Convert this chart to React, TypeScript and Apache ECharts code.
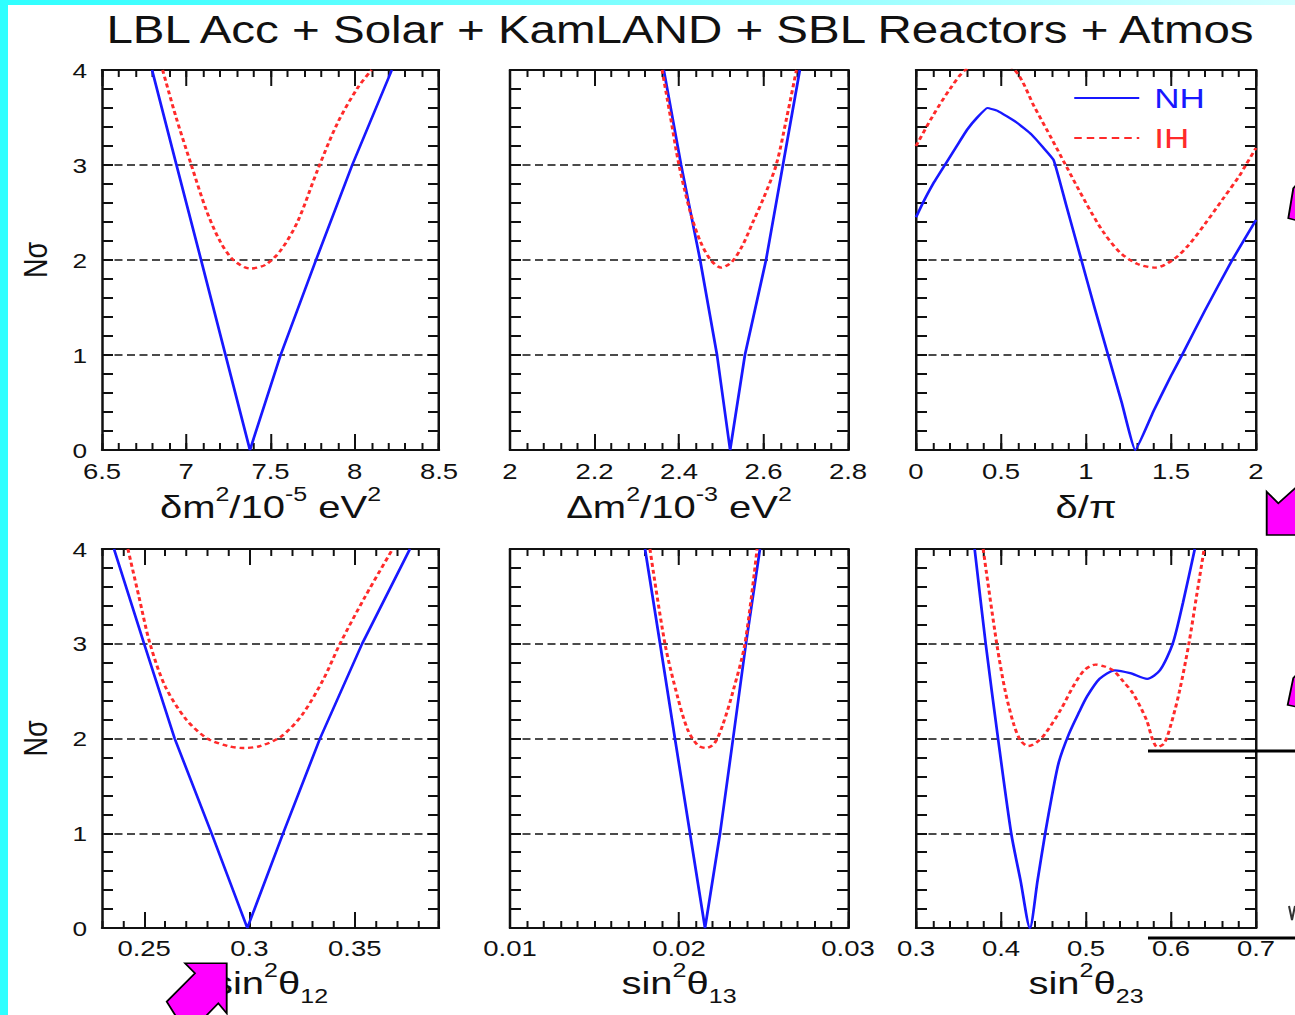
import { useEffect, useRef } from "react";
import * as echarts from "echarts";

// The reference slide image is stretched horizontally; we render at a
// narrower width and stretch the whole chart with CSS.
const STRETCH = 1.25;
const PAGE_W = 1295;
const PAGE_H = 1015;
const CHART_W = PAGE_W / STRETCH;

const FONT = "'Liberation Sans', Arial, Helvetica, sans-serif";
const INK = "#111111";
const BLUE = "#1818ff";
const RED = "#ff2a2a";

const TITLE = "LBL Acc + Solar + KamLAND + SBL Reactors + Atmos";
const SERIES_NAMES = ["NH", "IH"];
const Y_LABEL = "Nσ";

// ---- x-axis ranges, tick labels -------------------------------------------
const X_MIN = [6.5, 2, 0, 0.23, 0.01, 0.3];
const X_MAX = [8.5, 2.8, 2, 0.39, 0.03, 0.7];
const X_MAJORS = [
  [6.5, 7, 7.5, 8, 8.5],
  [2, 2.2, 2.4, 2.6, 2.8],
  [0, 0.5, 1, 1.5, 2],
  [0.25, 0.3, 0.35],
  [0.01, 0.02, 0.03],
  [0.3, 0.4, 0.5, 0.6, 0.7],
];
const X_MINOR_STEP = [0.1, 0.04, 0.1, 0.01, 0.001, 0.02];
const X_NAMES = [
  "{m|δm}{sup|2}{m|/10}{sup|-5}{m| eV}{sup|2}",
  "{m|Δm}{sup|2}{m|/10}{sup|-3}{m| eV}{sup|2}",
  "{m|δ/π}",
  "{m|sin}{sup|2}{m|θ}{sub|12}",
  "{m|sin}{sup|2}{m|θ}{sub|13}",
  "{m|sin}{sup|2}{m|θ}{sub|23}",
];

// ---- data: δm² / 10^-5 eV² -------------------------------------------------
const dm21X_NH = [6.797, 6.942, 7.088, 7.233, 7.378, 7.56, 7.77, 7.985, 8.22];
const dm21Y_NH = [4, 3, 2, 1, 0, 1, 2, 3, 4];
const dm21X_IH = [6.86, 6.94, 7.03, 7.12, 7.2, 7.28, 7.38, 7.47, 7.56, 7.66, 7.78, 7.9, 8.02, 8.1];
const dm21Y_IH = [4, 3.5, 3.0, 2.52, 2.2, 2.0, 1.91, 1.95, 2.1, 2.4, 2.95, 3.45, 3.82, 4.0];

// ---- data: Δm² / 10^-3 eV² -------------------------------------------------
const dm31X_NH = [2.364, 2.405, 2.45, 2.49, 2.521, 2.556, 2.606, 2.646, 2.686];
const dm31Y_NH = [4, 3, 2, 1, 0, 1, 2, 3, 4];
const dm31X_IH = [2.36, 2.38, 2.4, 2.427, 2.45, 2.475, 2.5, 2.525, 2.55, 2.575, 2.6, 2.63, 2.655, 2.678];
const dm31Y_IH = [4, 3.5, 3.0, 2.5, 2.2, 2.0, 1.92, 1.98, 2.15, 2.4, 2.65, 3.0, 3.5, 4.0];

// ---- data: δ/π --------------------------------------------------------------
const cpX_NH = [0, 0.04, 0.1, 0.17, 0.24, 0.3, 0.36, 0.42, 0.48, 0.59, 0.68, 0.75, 0.81, 0.88, 0.965, 1.05, 1.13, 1.21, 1.29, 1.4, 1.5, 1.565, 1.7, 1.86, 2.0];
const cpY_NH = [2.45, 2.6, 2.8, 3.0, 3.2, 3.37, 3.5, 3.6, 3.57, 3.45, 3.32, 3.18, 3.05, 2.6, 2.05, 1.5, 1.0, 0.5, 0, 0.42, 0.78, 1.0, 1.47, 2.0, 2.42];
const cpX_IH = [0, 0.1, 0.2, 0.29, 0.43, 0.58, 0.7, 0.8, 0.88, 1.0, 1.1, 1.2, 1.3, 1.41, 1.51, 1.6, 1.7, 1.8, 1.9, 1.94, 2.0];
const cpY_IH = [3.2, 3.52, 3.8, 4.0, 4.12, 4.0, 3.6, 3.27, 3.0, 2.6, 2.3, 2.08, 1.96, 1.92, 2.0, 2.15, 2.38, 2.63, 2.88, 3.0, 3.18];

// ---- data: sin²θ12 ----------------------------------------------------------
const s12X_NH = [0.2357, 0.25, 0.2645, 0.282, 0.299, 0.316, 0.3335, 0.3535, 0.3762];
const s12Y_NH = [4, 3, 2, 1, 0, 1, 2, 3, 4];
const s12X_IH = [0.2423, 0.2475, 0.2528, 0.26, 0.27, 0.28, 0.29, 0.297, 0.305, 0.315, 0.325, 0.335, 0.343, 0.355, 0.368];
const s12Y_IH = [4, 3.5, 3.0, 2.55, 2.2, 2.0, 1.92, 1.9, 1.92, 2.02, 2.25, 2.62, 3.0, 3.5, 4.0];

// ---- data: sin²θ13 ----------------------------------------------------------
const s13X_NH = [0.01799, 0.01888, 0.01976, 0.02065, 0.02154, 0.02243, 0.0232, 0.02396, 0.02479];
const s13Y_NH = [4, 3, 2, 1, 0, 1, 2, 3, 4];
const s13X_IH = [0.01828, 0.01917, 0.0199, 0.0205, 0.0211, 0.0216, 0.0221, 0.0226, 0.0232, 0.0239, 0.02462];
const s13Y_IH = [4, 3.0, 2.45, 2.1, 1.93, 1.9, 1.95, 2.15, 2.5, 3.0, 4.0];

// ---- data: sin²θ23 ----------------------------------------------------------
const s23X_NH = [0.369, 0.382, 0.3965, 0.412, 0.423, 0.434, 0.443, 0.452, 0.46, 0.468, 0.48, 0.492, 0.501, 0.516, 0.534, 0.552, 0.572, 0.587, 0.602, 0.614, 0.628];
const s23Y_NH = [4, 3, 2, 1, 0.5, 0, 0.5, 1.0, 1.4, 1.75, 2.05, 2.28, 2.44, 2.63, 2.72, 2.69, 2.63, 2.72, 3.0, 3.43, 4.0];
const s23X_IH = [0.379, 0.395, 0.405, 0.415, 0.423, 0.432, 0.442, 0.452, 0.47, 0.485, 0.498, 0.511, 0.522, 0.532, 0.544, 0.555, 0.571, 0.578, 0.584, 0.592, 0.6, 0.61, 0.621, 0.63, 0.639];
const s23Y_IH = [4, 3.0, 2.5, 2.15, 1.98, 1.92, 1.96, 2.05, 2.3, 2.55, 2.72, 2.78, 2.76, 2.72, 2.6, 2.48, 2.2, 2.0, 1.91, 1.95, 2.15, 2.5, 3.0, 3.5, 4.0];

const NH_X = [dm21X_NH, dm31X_NH, cpX_NH, s12X_NH, s13X_NH, s23X_NH];
const NH_Y = [dm21Y_NH, dm31Y_NH, cpY_NH, s12Y_NH, s13Y_NH, s23Y_NH];
const IH_X = [dm21X_IH, dm31X_IH, cpX_IH, s12X_IH, s13X_IH, s23X_IH];
const IH_Y = [dm21Y_IH, dm31Y_IH, cpY_IH, s12Y_IH, s13Y_IH, s23Y_IH];
const NH_SMOOTH = [0, 0, 0.12, 0, 0, 0.25];

const pairs = (xs: number[], ys: number[]) => xs.map((x, i) => [x, ys[i]]);
const rx = (x: number) => x / STRETCH; // page px -> chart px (horizontal)
const fmt = (v: number) => String(parseFloat(Number(v).toFixed(6)));

function buildOption() {
  // layout (page pixels)
  const colLeft = [102, 510, 916];
  const colWidth = [337, 338, 340];
  const rowTop = [70, 549];
  const rowHeight = [380, 379];

  const grids: any[] = [];
  const xAxes: any[] = [];
  const yAxes: any[] = [];
  const series: any[] = [];

  const frame = { show: true, onZero: false, lineStyle: { color: INK, width: 2 } };
  const xTickStyle = { color: INK, width: 1.6 };
  const richName = {
    m: { fontSize: 32, lineHeight: 46, fontFamily: FONT, color: INK },
    sup: { fontSize: 20, lineHeight: 20, verticalAlign: "top", fontFamily: FONT, color: INK },
    sub: { fontSize: 20, lineHeight: 20, verticalAlign: "bottom", fontFamily: FONT, color: INK },
  };

  for (let g = 0; g < 6; g++) {
    const col = g % 3;
    const row = Math.floor(g / 3);
    grids.push({
      left: rx(colLeft[col]),
      top: rowTop[row],
      width: rx(colWidth[col]),
      height: rowHeight[row],
      containLabel: false,
      outerBoundsMode: "none",
    });
    const base = { type: "value", gridIndex: g, min: X_MIN[g], max: X_MAX[g], splitLine: { show: false } };
    // bottom: labels + major ticks
    xAxes.push({
      ...base,
      position: "bottom",
      axisLine: frame,
      axisTick: { show: true, inside: true, length: 16, customValues: X_MAJORS[g], lineStyle: xTickStyle },
      axisLabel: {
        show: true,
        customValues: X_MAJORS[g],
        margin: row === 0 ? 10 : 9,
        fontSize: 22,
        fontFamily: FONT,
        color: INK,
        formatter: fmt,
      },
      name: X_NAMES[g],
      nameLocation: "middle",
      nameGap: row === 0 ? 34 : 32,
      nameTextStyle: { rich: richName },
    });
    // bottom: minor ticks
    xAxes.push({
      ...base,
      position: "bottom",
      interval: X_MINOR_STEP[g],
      axisLine: { show: false, onZero: false },
      axisTick: { show: true, inside: true, length: 7, lineStyle: xTickStyle },
      axisLabel: { show: false },
    });
    // top: major ticks
    xAxes.push({
      ...base,
      position: "top",
      axisLine: frame,
      axisTick: { show: true, inside: true, length: 16, customValues: X_MAJORS[g], lineStyle: xTickStyle },
      axisLabel: { show: false },
    });
    // top: minor ticks
    xAxes.push({
      ...base,
      position: "top",
      interval: X_MINOR_STEP[g],
      axisLine: { show: false, onZero: false },
      axisTick: { show: true, inside: true, length: 7, lineStyle: xTickStyle },
      axisLabel: { show: false },
    });

    const yBase = {
      type: "value",
      gridIndex: g,
      min: 0,
      max: 4,
      interval: 1,
      axisLine: frame,
      axisTick: { show: true, inside: true, length: 8.8, lineStyle: { color: INK, width: 2 } },
      minorTick: { show: true, splitNumber: 5, length: 8.8, lineStyle: { color: INK, width: 2 } },
    };
    yAxes.push({
      ...yBase,
      position: "left",
      axisLabel: { show: col === 0, margin: 12, fontSize: 21, fontFamily: FONT, color: INK },
      splitLine: { show: true, lineStyle: { type: [6.4, 3.6], color: INK, width: 1.6 } },
      name: col === 0 ? Y_LABEL : "",
      nameLocation: "middle",
      nameRotate: 90,
      nameGap: 40,
      nameTextStyle: { fontSize: 27, fontFamily: FONT, color: INK },
    });
    yAxes.push({
      ...yBase,
      position: "right",
      axisLabel: { show: false },
      splitLine: { show: false },
    });

    series.push({
      type: "line",
      name: SERIES_NAMES[0],
      xAxisIndex: g * 4,
      yAxisIndex: g * 2,
      data: pairs(NH_X[g], NH_Y[g]),
      showSymbol: false,
      symbol: "none",
      smooth: NH_SMOOTH[g],
      clip: true,
      silent: true,
      lineStyle: { color: BLUE, width: 2.2 },
      itemStyle: { color: BLUE },
      z: 3,
    });
    series.push({
      type: "line",
      name: SERIES_NAMES[1],
      xAxisIndex: g * 4,
      yAxisIndex: g * 2,
      data: pairs(IH_X[g], IH_Y[g]),
      showSymbol: false,
      symbol: "none",
      smooth: 0.3,
      clip: true,
      silent: true,
      lineStyle: { color: RED, width: 2.4, type: [4, 3] },
      itemStyle: { color: RED },
      z: 4,
    });
  }

  const poly = (pts: number[][]) => ({
    type: "polygon",
    shape: { points: pts.map(([x, y]) => [rx(x), y]) },
    style: { fill: "#ff00ff", stroke: "#000", lineWidth: 1.5 },
    z: 10,
  });

  const graphic: any[] = [
    // slide background edges
    { type: "rect", shape: { x: 0, y: 0, width: rx(8), height: PAGE_H }, style: { fill: "#2effff" }, z: 1 },
    {
      type: "rect",
      shape: { x: 0, y: 0, width: CHART_W, height: 5 },
      style: {
        fill: new echarts.graphic.LinearGradient(0, 0, 1, 0, [
          { offset: 0, color: "#2effff" },
          { offset: 1, color: "#d4ffff" },
        ]),
      },
      z: 1,
    },
    // title
    {
      type: "text",
      x: rx(680),
      y: 30,
      style: {
        text: TITLE,
        fontSize: 38,
        fontFamily: FONT,
        fill: INK,
        align: "center",
        verticalAlign: "middle",
        textAlign: "center",
        textVerticalAlign: "middle",
      },
      z: 5,
    },
    // slide annotations (magenta arrows, black lines, clipped glyph fragment)
    poly([[1293.3, 188.3], [1288.3, 218.3], [1297, 220.5], [1297, 184]]),
    poly([[1266.7, 491.7], [1278.3, 503.3], [1295, 488.3], [1297, 487], [1297, 535], [1266.7, 535]]),
    poly([[1293.3, 678], [1287.7, 705], [1297, 707], [1297, 674]]),
    poly([[185, 963.3], [226.7, 963.3], [226.7, 1013.3], [218.3, 1003.3], [204, 1018], [177, 1018], [166.7, 1001.7], [195, 973.3]]),
    { type: "line", shape: { x1: rx(1148), y1: 751, x2: CHART_W + 2, y2: 751 }, style: { stroke: "#000", lineWidth: 3 }, z: 10 },
    { type: "line", shape: { x1: rx(1148), y1: 938, x2: CHART_W + 2, y2: 938 }, style: { stroke: "#000", lineWidth: 3 }, z: 10 },
    {
      type: "polyline",
      shape: { points: [[rx(1289), 906], [rx(1292), 920], [rx(1295), 906]] },
      style: { stroke: "#333", lineWidth: 1.6, fill: "none" },
      z: 10,
    },
  ];

  return {
    animation: false,
    backgroundColor: "#ffffff",
    grid: grids,
    xAxis: xAxes,
    yAxis: yAxes,
    series,
    legend: {
      data: [
        { name: "NH", textStyle: { color: BLUE } },
        { name: "IH", textStyle: { color: RED }, lineStyle: { type: [6, 4], width: 2 } },
      ],
      orient: "vertical",
      left: rx(1073),
      top: 84,
      padding: 0,
      itemWidth: rx(65),
      itemHeight: 20,
      itemGap: 12,
      selectedMode: false,
      itemStyle: { opacity: 0 },
      textStyle: { fontSize: 28, fontFamily: FONT, padding: [0, 0, 0, 7] },
    },
    graphic,
  };
}

export default function App() {
  const ref = useRef<HTMLDivElement>(null);
  useEffect(() => {
    if (!ref.current) return;
    const chart = echarts.init(ref.current, undefined, { renderer: "svg" });
    chart.setOption(buildOption() as any);
    return () => chart.dispose();
  }, []);
  return (
    <div
      style={{
        position: "absolute",
        left: 0,
        top: 0,
        width: PAGE_W,
        height: PAGE_H,
        overflow: "hidden",
        background: "#fff",
      }}
    >
      <div
        ref={ref}
        style={{
          width: CHART_W,
          height: PAGE_H,
          transform: `scaleX(${STRETCH})`,
          transformOrigin: "0 0",
        }}
      />
    </div>
  );
}
